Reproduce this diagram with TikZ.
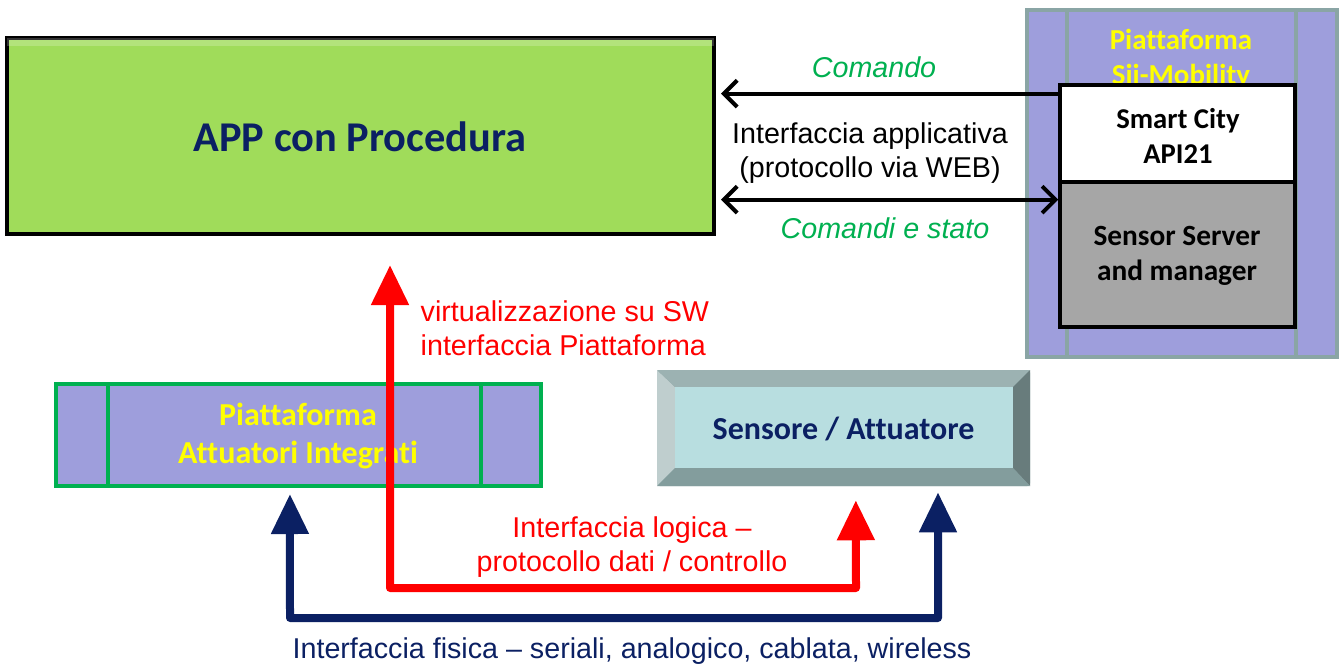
\documentclass[tikz,border=0pt]{standalone}
\usepackage{fontspec}
\setmainfont{Liberation Sans}
\newfontfamily\carl[Ligatures={NoCommon}]{Carlito}
\usetikzlibrary{arrows.meta,calc}
\definecolor{appgreen}{HTML}{A0DC5A}
\definecolor{navy}{HTML}{0B2063}
\definecolor{lav}{HTML}{9E9EDC}
\definecolor{graygreen}{HTML}{8AA5A5}
\definecolor{pgreen}{HTML}{00B050}
\definecolor{ylw}{HTML}{FFFF00}
\definecolor{cyanbox}{HTML}{B8DEE0}
\definecolor{srvgray}{HTML}{A6A6A6}
\definecolor{myred}{HTML}{FF0000}
\tikzset{
  boxtext/.style={font=\carl\bfseries\fontsize{#1}{1.2\dimexpr#1pt\relax}\selectfont, align=center},
  lbl/.style={font=\fontsize{21.5}{25.5}\selectfont, align=center},
  blkarrow/.style={line width=3pt, -{Straight Barb[length=10pt,width=20pt,line width=3pt]}},
  blkdarrow/.style={line width=3pt, {Straight Barb[length=10pt,width=20pt,line width=3pt]}-{Straight Barb[length=10pt,width=20pt,line width=3pt]}},
  bigarrow/.style={line width=6pt, line join=round, {Triangle[length=30pt,width=27pt]}-{Triangle[length=30pt,width=27pt]}},
}
\begin{document}
\begin{tikzpicture}[x=0.75pt,y=-0.75pt]
\useasboundingbox (0,0) rectangle (1341,670);

% APP box
\node[draw=black, line width=2.5pt, fill=appgreen, minimum width=530.25pt, minimum height=147pt, inner sep=0pt] (app) at (360.5,136) {};
\fill[white, opacity=0.2] ($(app.north west)+(2,2)$) rectangle ($(app.north east)+(-2,10)$);
\node[boxtext=31.8, text=navy] (apptxt) at (360,137) {APP con Procedura};

% Sii-Mobility platform
\node[draw=graygreen, line width=2.5pt, fill=lav, minimum width=232.5pt, minimum height=260.25pt, inner sep=0pt] (sii) at (1182,183.5) {};
\draw[graygreen, line width=2.5pt] (1067,10) -- (1067,357) (1296,10) -- (1296,357);
\node[boxtext=21.7, text=ylw] (siitxt) at (1181,59) {Piattaforma\\Sii-Mobility};

% Smart City API21
\node[draw=black, line width=2.5pt, fill=white, minimum width=176.25pt, minimum height=72.75pt, inner sep=0pt] (smart) at (1177.5,133.5) {};
\node[boxtext=21.5, text=black] (smarttxt) at (1178,136) {Smart City\\API21};

% Sensor server
\node[draw=black, line width=2.5pt, fill=srvgray, minimum width=176.25pt, minimum height=108.75pt, inner sep=0pt] (srv) at (1177.5,254.5) {};
\node[boxtext=22, text=black] (srvtxt) at (1177,256) {Sensor Server\\and manager};

% Piattaforma Attuatori Integrati
\node[draw=pgreen, line width=3pt, fill=lav, minimum width=363.75pt, minimum height=76.5pt, inner sep=0pt] (att) at (298.5,435) {};
\draw[pgreen, line width=3pt] (108,384) -- (108,486) (481,384) -- (481,486);
\node[boxtext=24, text=ylw] (atttxt) at (298,436) {Piattaforma\\Attuatori Integrati};

% Sensore / Attuatore bevelled box
\node[fill=graygreen, minimum width=279.75pt, minimum height=87pt, inner sep=0pt, rounded corners=2pt] (sens) at (843.5,428) {};
\fill[graygreen!55!white] (657,370) -- (675,387) -- (675,468) -- (657,486) -- cycle;
\fill[graygreen!85!white] (657,370) -- (1030,370) -- (1013,387) -- (675,387) -- cycle;
\fill[graygreen!75!black] (1030,370) -- (1030,486) -- (1013,468) -- (1013,387) -- cycle;
\fill[graygreen!95!black] (657,486) -- (1030,486) -- (1013,468) -- (675,468) -- cycle;
\fill[cyanbox] (675,387) rectangle (1013,468);
\node[boxtext=24, text=navy] (senstxt) at (843.5,429) {Sensore / Attuatore};

% Black arrows between APP and platform
\coordinate (cmdS) at ($(smart.north west)!0.103!(smart.south west)$);
\draw[blkarrow, shorten >=4pt] (cmdS) -- (app.east |- cmdS);
\coordinate (stS) at ($(srv.north west)!0.13!(srv.south west)$);
\draw[blkdarrow, shorten <=4pt] (app.east |- stS) -- (stS);
\node[lbl, text=pgreen, font=\itshape\fontsize{21.5}{25.5}\selectfont] (cmdlbl) at (874,67) {Comando};
\node[lbl] (apilbl) at (870,153) {Interfaccia applicativa\\(protocollo via WEB)};
\node[lbl, text=pgreen, font=\itshape\fontsize{21.5}{25.5}\selectfont] (stlbl) at (885,228) {Comandi e stato};

% Red logical interface arrow
\coordinate (rtop) at (390,265);
\coordinate (rbl) at (390,588);
\coordinate (rbr) at (856,588);
\coordinate (rend) at ($(sens.south west)!0.533!(sens.south east)+(0,14)$);
\draw[bigarrow, myred] (rtop) -- (rbl) -- (rbr) -- (rend);
\node[lbl, text=myred, align=left, anchor=west] (virtlbl) at (416,328) {virtualizzazione su SW\\interfaccia Piattaforma};
\node[lbl, text=myred] (loglbl) at (632,547) {Interfaccia logica –\\protocollo dati / controllo};

% Navy physical interface arrow
\coordinate (nl) at ($(att.south west)!0.4825!(att.south east)+(0,6)$);
\coordinate (nbl) at (290,618);
\coordinate (nbr) at (938,618);
\coordinate (nr) at ($(sens.south west)!0.753!(sens.south east)+(0,6)$);
\draw[bigarrow, navy] (nl) -- (nbl) -- (nbr) -- (nr);
\node[lbl, text=navy] (fislbl) at (632,651) {Interfaccia fisica – seriali, analogico, cablata, wireless};
\end{tikzpicture}
\end{document}
